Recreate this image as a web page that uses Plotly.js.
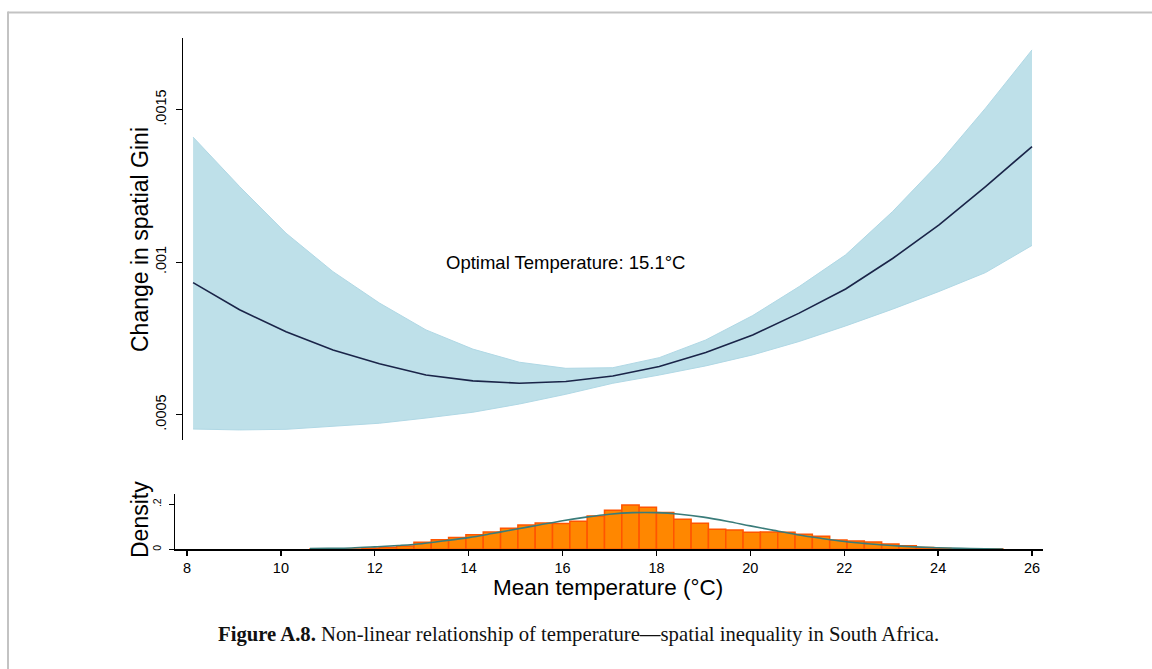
<!DOCTYPE html>
<html>
<head>
<meta charset="utf-8">
<script src="https://cdn.plot.ly/plotly-3.0.1.min.js"></script>
<style>html,body{margin:0;padding:0;background:#fff;} #chart{width:1152px;height:669px;}</style>
</head>
<body>
<div id="chart"></div>
<script>
// ---- Data ----
// Marginal-effect curve (top panel)
const tempGrid = [8.13, 9.12, 10.11, 11.11, 12.10, 13.09, 14.09, 15.08, 16.07, 17.07,
                  18.06, 19.05, 20.05, 21.04, 22.03, 23.03, 24.02, 25.01, 26.00];
const effect   = [0.000933, 0.000844, 0.000772, 0.000712, 0.000667, 0.000630, 0.000611, 0.000603, 0.000609, 0.000627,
                  0.000658, 0.000704, 0.000761, 0.000833, 0.000912, 0.001012, 0.001122, 0.001248, 0.001379];
const ciUpper  = [0.001410, 0.001248, 0.001095, 0.000969, 0.000866, 0.000778, 0.000715, 0.000672, 0.000652, 0.000654,
                  0.000687, 0.000745, 0.000825, 0.000920, 0.001024, 0.001166, 0.001325, 0.001505, 0.001696];
const ciLower  = [0.000453, 0.000450, 0.000452, 0.000461, 0.000472, 0.000489, 0.000508, 0.000535, 0.000567, 0.000603,
                  0.000630, 0.000660, 0.000696, 0.000740, 0.000791, 0.000846, 0.000904, 0.000966, 0.001055];

// Histogram of mean temperature (bottom panel)
const binStart = 10.62;
const binWidth = 0.369;
const density  = [0.001, 0.001, 0.001, 0.006, 0.009, 0.015, 0.031, 0.043, 0.052, 0.065,
                  0.077, 0.094, 0.108, 0.117, 0.115, 0.125, 0.148, 0.174, 0.197, 0.187,
                  0.164, 0.134, 0.116, 0.089, 0.086, 0.076, 0.077, 0.076, 0.067, 0.058,
                  0.041, 0.037, 0.032, 0.024, 0.016, 0.008, 0.004, 0.001, 0.001, 0.001];

// Normal density overlay
const normX = [10.62, 11.0, 11.5, 12.0, 12.5, 13.0, 13.5, 14.0, 14.5, 15.0, 15.5, 16.0, 16.5, 17.0, 17.5, 18.0,
               18.5, 19.0, 19.5, 20.0, 20.5, 21.0, 21.5, 22.0, 22.5, 23.0, 23.5, 24.0, 24.5, 25.0, 25.38];
const normY = [0.003, 0.004, 0.006, 0.011, 0.017, 0.025, 0.038, 0.052, 0.070, 0.089, 0.108, 0.127, 0.143, 0.156, 0.163, 0.163,
               0.156, 0.143, 0.125, 0.104, 0.084, 0.065, 0.049, 0.035, 0.025, 0.017, 0.011, 0.007, 0.004, 0.002, 0.0015];

// Tick labels
const xTicks = [8, 10, 12, 14, 16, 18, 20, 22, 24, 26];
const yTopTickVals = [0.0005, 0.001, 0.0015];
const yTopTickText = ['.0005', '.001', '.0015'];
const yBotTickVals = [0, 0.2];
const yBotTickText = ['0', '.2'];

// Texts
const yTopTitle = 'Change in spatial Gini';
const yBotTitle = 'Density';
const xTitle = 'Mean temperature (°C)';
const optimalLabel = 'Optimal Temperature: 15.1°C';
const optimalX = 16.07, optimalY = 0.001;
const caption = '<b>Figure A.8.</b> Non-linear relationship of temperature—spatial inequality in South Africa.';

// ---- Layout helpers (pixel -> paper fraction) ----
const W = 1152, H = 669;
const px = v => v / W;
const py = v => 1 - v / H;

const binCenters = density.map((_, i) => binStart + binWidth * (i + 0.5));

const sans = 'Liberation Sans, Arial, Helvetica, sans-serif';

const traces = [
  { x: tempGrid, y: ciLower, xaxis: 'x2', yaxis: 'y2', type: 'scatter', mode: 'lines',
    line: { color: 'rgb(176,216,229)', width: 1 }, hoverinfo: 'skip', showlegend: false },
  { x: tempGrid, y: ciUpper, xaxis: 'x2', yaxis: 'y2', type: 'scatter', mode: 'lines',
    fill: 'tonexty', fillcolor: 'rgb(190,224,233)',
    line: { color: 'rgb(176,216,229)', width: 1 }, showlegend: false },
  { x: tempGrid, y: effect, xaxis: 'x2', yaxis: 'y2', type: 'scatter', mode: 'lines',
    line: { color: 'rgb(26,36,72)', width: 1.6 }, showlegend: false },
  { x: binCenters, y: density, xaxis: 'x', yaxis: 'y', type: 'bar', width: binWidth,
    marker: { color: 'rgb(255,135,0)', line: { color: 'rgb(255,85,0)', width: 1.5 } }, showlegend: false },
  { x: normX, y: normY, xaxis: 'x', yaxis: 'y', type: 'scatter', mode: 'lines',
    line: { color: 'rgb(58,124,122)', width: 1.6, shape: 'spline' }, showlegend: false }
];

const layout = {
  width: W, height: H,
  margin: { l: 0, r: 0, t: 0, b: 0 },
  paper_bgcolor: '#ffffff', plot_bgcolor: 'rgba(0,0,0,0)',
  font: { family: sans, color: '#000' },
  showlegend: false,
  bargap: 0,
  xaxis: {
    domain: [px(175), px(1043)], range: [7.744, 26.234], anchor: 'y',
    showgrid: false, zeroline: false, showline: true, linecolor: '#000', linewidth: 1.3,
    ticks: 'outside', ticklen: 5, tickwidth: 1.3, tickcolor: '#000',
    tickvals: xTicks, ticktext: xTicks.map(String), tickfont: { size: 14.5, family: sans }
  },
  yaxis: {
    domain: [py(549.3), py(494)], range: [0, 0.2458], anchor: 'x',
    showgrid: false, zeroline: false, showline: true, linecolor: '#000', linewidth: 1.3,
    ticks: 'outside', ticklen: 5, tickwidth: 1.3, tickcolor: '#000', ticklabelstandoff: 4,
    tickvals: yBotTickVals, ticktext: yBotTickText, tickangle: -90, tickfont: { size: 10.5, family: sans }
  },
  xaxis2: {
    domain: [px(183), px(1043)], range: [7.915, 26.234], anchor: 'y2', visible: false
  },
  yaxis2: {
    domain: [py(440), py(38)], range: [0.000417, 0.001735], anchor: 'x2',
    showgrid: false, zeroline: false, showline: true, linecolor: '#000', linewidth: 1.3,
    ticks: 'outside', ticklen: 6, tickwidth: 1.3, tickcolor: '#000', ticklabelstandoff: 4,
    tickvals: yTopTickVals, ticktext: yTopTickText, tickangle: -90, tickfont: { size: 14.5, family: sans }
  },
  annotations: [
    { text: optimalLabel, xref: 'x2', yref: 'y2', x: optimalX, y: optimalY, showarrow: false,
      font: { size: 18.5, family: sans, color: '#000' }, xanchor: 'center', yanchor: 'middle' },
    { text: yTopTitle, xref: 'paper', yref: 'paper', x: px(140), y: py(240), textangle: -90, showarrow: false,
      font: { size: 23, family: sans, color: '#000' }, xanchor: 'center', yanchor: 'middle' },
    { text: yBotTitle, xref: 'paper', yref: 'paper', x: px(140), y: py(520), textangle: -90, showarrow: false,
      font: { size: 23, family: sans, color: '#000' }, xanchor: 'center', yanchor: 'middle' },
    { text: xTitle, xref: 'paper', yref: 'paper', x: px(608), y: py(587), showarrow: false,
      font: { size: 22.5, family: sans, color: '#000' }, xanchor: 'center', yanchor: 'middle' },
    { text: caption, xref: 'paper', yref: 'paper', x: px(578), y: py(634), showarrow: false,
      font: { size: 20.7, family: 'Liberation Serif, Times New Roman, serif', color: '#111' }, xanchor: 'center', yanchor: 'middle' }
  ],
  shapes: [
    { type: 'line', xref: 'paper', yref: 'paper', x0: px(8), x1: 1, y0: py(12.5), y1: py(12.5),
      line: { color: 'rgb(195,195,195)', width: 2 } },
    { type: 'line', xref: 'paper', yref: 'paper', x0: px(8), x1: px(8), y0: py(11.5), y1: 0,
      line: { color: 'rgb(195,195,195)', width: 2 } }
  ]
};

Plotly.newPlot('chart', traces, layout, { staticPlot: true, displayModeBar: false });
</script>
</body>
</html>
